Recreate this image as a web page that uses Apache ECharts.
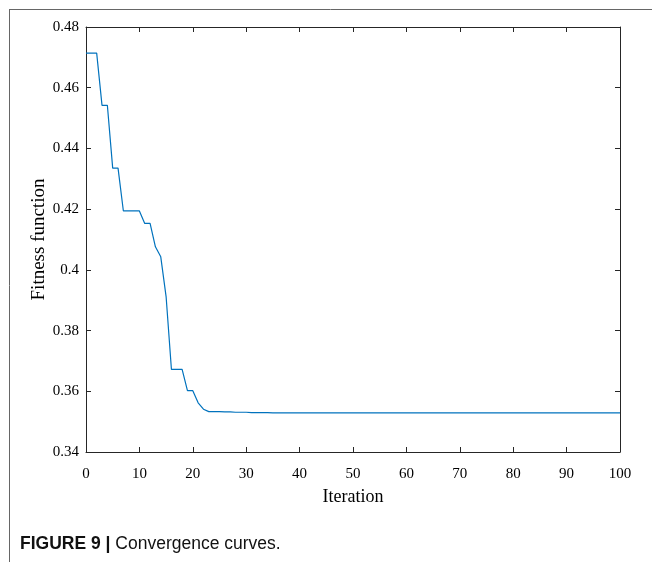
<!DOCTYPE html>
<html>
<head>
<meta charset="utf-8">
<title>Convergence curves</title>
<script src="https://cdn.jsdelivr.net/npm/echarts@6/dist/echarts.min.js"></script>
<style>
  html, body { margin: 0; padding: 0; background: #ffffff; }
  #chart { width: 652px; height: 562px; }
</style>
</head>
<body>
<div id="chart"></div>
<script>
// Best fitness value recorded at each iteration (0..100)
const iterations = Array.from({ length: 101 }, (_, i) => i);
const fitness = [
  0.4714, 0.4714, 0.4714, 0.4542, 0.4542, 0.4335, 0.4335, 0.4194, 0.4194, 0.4194,
  0.4194, 0.4153, 0.4153, 0.4076, 0.4043, 0.3912, 0.3672, 0.3672, 0.3672, 0.3602,
  0.3602, 0.3562, 0.3541, 0.3533, 0.3533, 0.3533, 0.3532, 0.3532, 0.3531, 0.3531,
  0.3531, 0.3530, 0.3530, 0.3530, 0.3530, 0.3529, 0.3529, 0.3529, 0.3529, 0.3529,
  0.3529, 0.3529, 0.3529, 0.3529, 0.3529, 0.3529, 0.3529, 0.3529, 0.3529, 0.3529,
  0.3529, 0.3529, 0.3529, 0.3529, 0.3529, 0.3529, 0.3529, 0.3529, 0.3529, 0.3529,
  0.3529, 0.3529, 0.3529, 0.3529, 0.3529, 0.3529, 0.3529, 0.3529, 0.3529, 0.3529,
  0.3529, 0.3529, 0.3529, 0.3529, 0.3529, 0.3529, 0.3529, 0.3529, 0.3529, 0.3529,
  0.3529, 0.3529, 0.3529, 0.3529, 0.3529, 0.3529, 0.3529, 0.3529, 0.3529, 0.3529,
  0.3529, 0.3529, 0.3529, 0.3529, 0.3529, 0.3529, 0.3529, 0.3529, 0.3529, 0.3529,
  0.3529
];

const xRange = { min: 0, max: 100, interval: 10 };
const yRange = { min: 0.34, max: 0.48, interval: 0.02 };
const xTitle = 'Iteration';
const yTitle = 'Fitness function';
const captionBold = 'FIGURE 9 |';
const captionText = ' Convergence curves.';

const serif = '"Liberation Serif", "Times New Roman", serif';
const axisColor = '#262626';
const lineColor = '#0072BD';

const chart = echarts.init(document.getElementById('chart'), null, { renderer: 'canvas' });

const tickStyle = { show: true, inside: true, length: 5, lineStyle: { color: axisColor, width: 1 } };

chart.setOption({
  backgroundColor: '#ffffff',
  animation: false,
  grid: { left: 86, right: 32, top: 27, bottom: 110, containLabel: false },
  xAxis: [
    {
      type: 'value', position: 'bottom',
      min: xRange.min, max: xRange.max, interval: xRange.interval,
      name: xTitle, nameLocation: 'middle', nameGap: 36,
      nameTextStyle: { fontFamily: serif, fontSize: 18, color: '#000' },
      axisLine: { show: true, onZero: false, lineStyle: { color: axisColor, width: 1 } },
      axisTick: tickStyle,
      axisLabel: { fontFamily: serif, fontSize: 15, color: '#000', margin: 15 },
      splitLine: { show: false }
    },
    {
      type: 'value', position: 'top',
      min: xRange.min, max: xRange.max, interval: xRange.interval,
      axisLine: { show: true, onZero: false, lineStyle: { color: axisColor, width: 1 } },
      axisTick: tickStyle,
      axisLabel: { show: false },
      splitLine: { show: false }
    }
  ],
  yAxis: [
    {
      type: 'value', position: 'left',
      min: yRange.min, max: yRange.max, interval: yRange.interval,
      name: yTitle, nameLocation: 'middle', nameGap: 37, nameRotate: 90,
      nameMoveOverlap: false,
      nameTextStyle: { fontFamily: serif, fontSize: 19, color: '#000' },
      axisLine: { show: true, onZero: false, lineStyle: { color: axisColor, width: 1 } },
      axisTick: tickStyle,
      axisLabel: { fontFamily: serif, fontSize: 15, color: '#000', margin: 7 },
      splitLine: { show: false }
    },
    {
      type: 'value', position: 'right',
      min: yRange.min, max: yRange.max, interval: yRange.interval,
      axisLine: { show: true, onZero: false, lineStyle: { color: axisColor, width: 1 } },
      axisTick: tickStyle,
      axisLabel: { show: false },
      splitLine: { show: false }
    }
  ],
  series: [
    {
      type: 'line',
      xAxisIndex: 0, yAxisIndex: 0,
      data: iterations.map((it, i) => [it, fitness[i]]),
      showSymbol: false,
      lineStyle: { color: lineColor, width: 1.2 },
      silent: true
    }
  ],
  graphic: [
    // Page frame: top rule and left rule
    { type: 'line', shape: { x1: 9, y1: 9.5, x2: 652, y2: 9.5 }, style: { stroke: '#666', lineWidth: 1 } },
    { type: 'line', shape: { x1: 9.5, y1: 9, x2: 9.5, y2: 562 }, style: { stroke: '#666', lineWidth: 1 } },
    {
      type: 'text', left: 20, top: 535,
      style: {
        text: '{b|' + captionBold + '}{n|' + captionText + '}',
        rich: {
          b: { fontFamily: '"Liberation Sans", Arial, sans-serif', fontWeight: 'bold', fontSize: 17.5, fill: '#111' },
          n: { fontFamily: '"Liberation Sans", Arial, sans-serif', fontSize: 17.5, fill: '#111' }
        }
      }
    }
  ]
});
</script>
</body>
</html>
